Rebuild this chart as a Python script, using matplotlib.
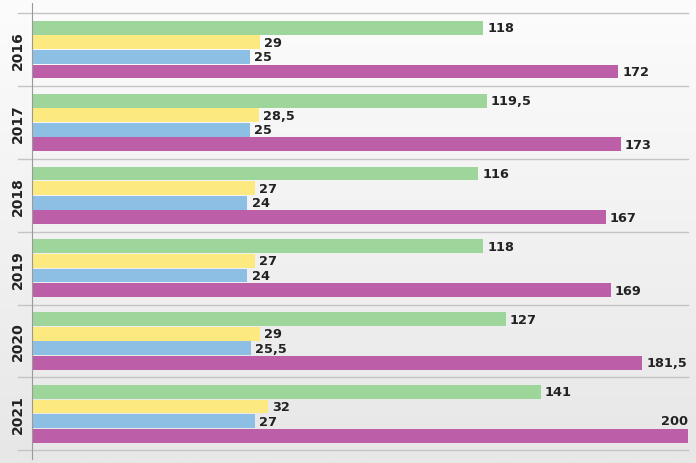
import numpy as np
import matplotlib
matplotlib.use("Agg")
import matplotlib.pyplot as plt
import matplotlib.transforms as mtransforms

years = ["2016", "2017", "2018", "2019", "2020", "2021"]
green = [118, 119.5, 116, 118, 127, 141]
yellow = [29, 28.5, 27, 27, 29, 32]
blue = [25, 25, 24, 24, 25.5, 27]
magenta = [172, 173, 167, 169, 181.5, 200]

series = [green, yellow, blue, magenta]
colors = ["#9dd59a", "#fce97f", "#8dbfe4", "#bd5ea8"]

# the bars in the original don't start at zero, they share a shifted baseline
base = -62

plt.rcParams['font.family'] = ['DejaVu Sans']

fig = plt.figure(figsize=(6.96, 4.64), dpi=100)

# soft vertical gradient behind everything
bg = fig.add_axes([0, 0, 1, 1], zorder=-1)
grad = np.linspace(0, 1, 256)[:, None]
bg.imshow(grad, aspect="auto", cmap=matplotlib.colors.LinearSegmentedColormap.from_list(
    "bg", ["#fcfcfc", "#e7e7e7"]), extent=[0, 1, 0, 1], origin="upper")
bg.axis("off")

ax = fig.add_axes([32 / 696, 4 / 464, 658 / 696, 456 / 464])
ax.set_facecolor("none")

step = 0.2
for k, (vals, col) in enumerate(zip(series, colors)):
    vals = np.array(vals, dtype=float)
    y = np.arange(len(years)) + (k - 1.5) * step
    ax.barh(y, vals - base, left=base, height=0.19, color=col, zorder=2)
    for yi, v in zip(y, vals):
        txt = ("%g" % v).replace(".", ",")
        if v >= 195:
            ax.annotate(txt, (v, yi), xytext=(0, 11), textcoords="offset points",
                        ha="right", va="center", fontsize=9.3, fontweight="bold",
                        color="#222222")
        else:
            ax.annotate(txt, (v, yi), xytext=(3, 0), textcoords="offset points",
                        ha="left", va="center", fontsize=9.3, fontweight="bold",
                        color="#222222")

ax.set_xlim(base, 200.6)
ax.set_ylim(5.62, -0.64)

trans = mtransforms.blended_transform_factory(ax.transAxes, ax.transData)
for b in np.arange(len(years) + 1) - 0.5:
    ax.plot([-0.021, 0.997], [b, b], transform=trans, color="#c4c4c4",
            lw=1, clip_on=False, zorder=1)
for i, yr in enumerate(years):
    ax.text(-0.021, i, yr, transform=trans, rotation=90, ha="center",
            va="center", fontsize=10, fontweight="bold", color="#222222")

for s in ["top", "right", "bottom"]:
    ax.spines[s].set_visible(False)
ax.spines["left"].set_color("#9a9a9a")
ax.spines["left"].set_linewidth(0.8)
ax.set_xticks([])
ax.set_yticks([])

fig.savefig("out.png", dpi=100)
